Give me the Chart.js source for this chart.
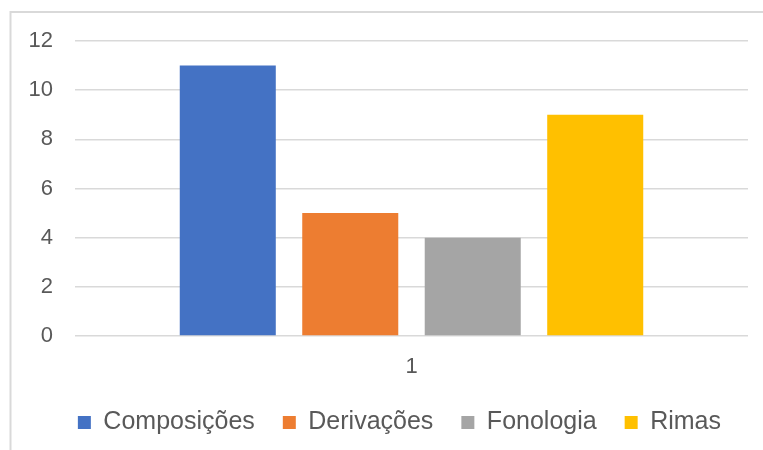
<!DOCTYPE html>
<html>
<head>
<meta charset="utf-8">
<script src="https://cdn.jsdelivr.net/npm/chart.js@4/dist/chart.umd.min.js"></script>
<style>
  html, body { margin: 0; padding: 0; background: #ffffff; }
  #wrap { position: relative; width: 763px; height: 450px; }
</style>
</head>
<body>
<div id="wrap"><canvas id="c" width="763" height="450"></canvas></div>
<script>
const categories = ['1'];
const seriesNames = ['Composições', 'Derivações', 'Fonologia', 'Rimas'];
const composicoes = [11];
const derivacoes = [5];
const fonologia = [4];
const rimas = [9];
const yTicks = [0, 2, 4, 6, 8, 10, 12];

const colors = ['#4472C4', '#ED7D31', '#A5A5A5', '#FFC000'];
const seriesValues = [composicoes, derivacoes, fonologia, rimas];

const framePlugin = {
  id: 'frame',
  beforeDraw(chart) {
    const ctx = chart.ctx;
    ctx.save();
    ctx.fillStyle = '#ffffff';
    ctx.fillRect(0, 0, chart.width, chart.height);
    ctx.strokeStyle = '#d9d9d9';
    ctx.lineWidth = 2;
    ctx.strokeRect(10.5, 12, 790, 470);
    ctx.restore();
  }
};

new Chart(document.getElementById('c'), {
  type: 'bar',
  data: {
    labels: categories,
    datasets: seriesNames.map((name, i) => ({
      label: name,
      data: seriesValues[i],
      backgroundColor: colors[i],
      borderWidth: 0,
      categoryPercentage: 0.728,
      barPercentage: 0.784
    }))
  },
  options: {
    responsive: false,
    animation: false,
    devicePixelRatio: 1,
    layout: { padding: { left: 0, right: 14, top: 41, bottom: 5 } },
    plugins: {
      legend: {
        position: 'bottom',
        align: 'end',
        labels: {
          boxWidth: 13,
          boxHeight: 13,
          padding: 28,
          color: '#595959',
          font: { family: 'Liberation Sans, Arial, sans-serif', size: 25 }
        }
      },
      tooltip: { enabled: false }
    },
    scales: {
      x: {
        grid: { display: false },
        border: { display: false },
        ticks: {
          color: '#595959',
          padding: 10,
          font: { family: 'Liberation Sans, Arial, sans-serif', size: 22 }
        },
        afterFit(s) { s.height = 46; }
      },
      y: {
        min: 0,
        max: 12,
        afterBuildTicks(s) { s.ticks = yTicks.map(v => ({ value: v })); },
        grid: { color: '#d9d9d9', lineWidth: 1.5, drawTicks: false },
        border: { display: false },
        ticks: {
          color: '#595959',
          padding: 22,
          font: { family: 'Liberation Sans, Arial, sans-serif', size: 22 }
        },
        afterFit(s) { s.width = 75; }
      },
      yRight: {
        position: 'right',
        display: true,
        grid: { display: false, drawTicks: false },
        border: { display: false },
        ticks: { display: false },
        afterFit(s) { s.width = 1; }
      }
    }
  },
  plugins: [framePlugin]
});
</script>
</body>
</html>
